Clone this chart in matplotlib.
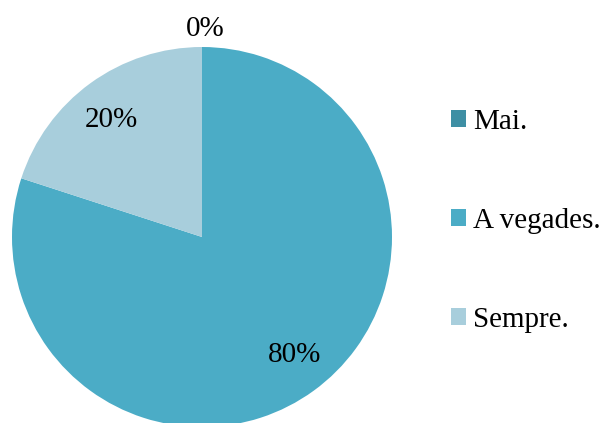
import numpy as np
import matplotlib.pyplot as plt

# dades
categories = ['Mai.', 'A vegades.', 'Sempre.']
values = [0, 80, 20]
colors = ['#3E8FA4', '#4BACC6', '#A8CEDC']

plt.rcParams['font.family'] = ['Liberation Serif', 'DejaVu Serif']

fig = plt.figure(figsize=(6.02, 4.23), dpi=100)
ax = fig.add_axes([0, 0, 1, 1])

cx, cy, r = 202, 423 - 237, 190
wedges, texts, pcts = ax.pie(values, colors=colors, startangle=90, counterclock=False,
                             center=(cx, cy), radius=r, autopct='%1.0f%%', pctdistance=0.79,
                             textprops={'fontsize': 21, 'color': 'black'},
                             wedgeprops={'linewidth': 0})

# l'etiqueta del 0% va fora del pastis
pcts[0].set_position((cx + 3, cy + r * 1.095))
# petits ajustos
x, y = pcts[1].get_position()
pcts[1].set_position((x + 4, y + 3))
x, y = pcts[2].get_position()
pcts[2].set_position((x - 2, y - 4))

ax.set_xlim(0, 602)
ax.set_ylim(0, 423)
ax.set_aspect('equal')
ax.axis('off')

ax.legend(wedges, categories, loc='center left', bbox_to_anchor=(451 / 602, 1 - 221 / 423),
          frameon=False, fontsize=21, labelspacing=2.5, handlelength=0.52, handleheight=0.52,
          handletextpad=0.25, borderpad=0, borderaxespad=0)

fig.savefig('out.png', dpi=100)
